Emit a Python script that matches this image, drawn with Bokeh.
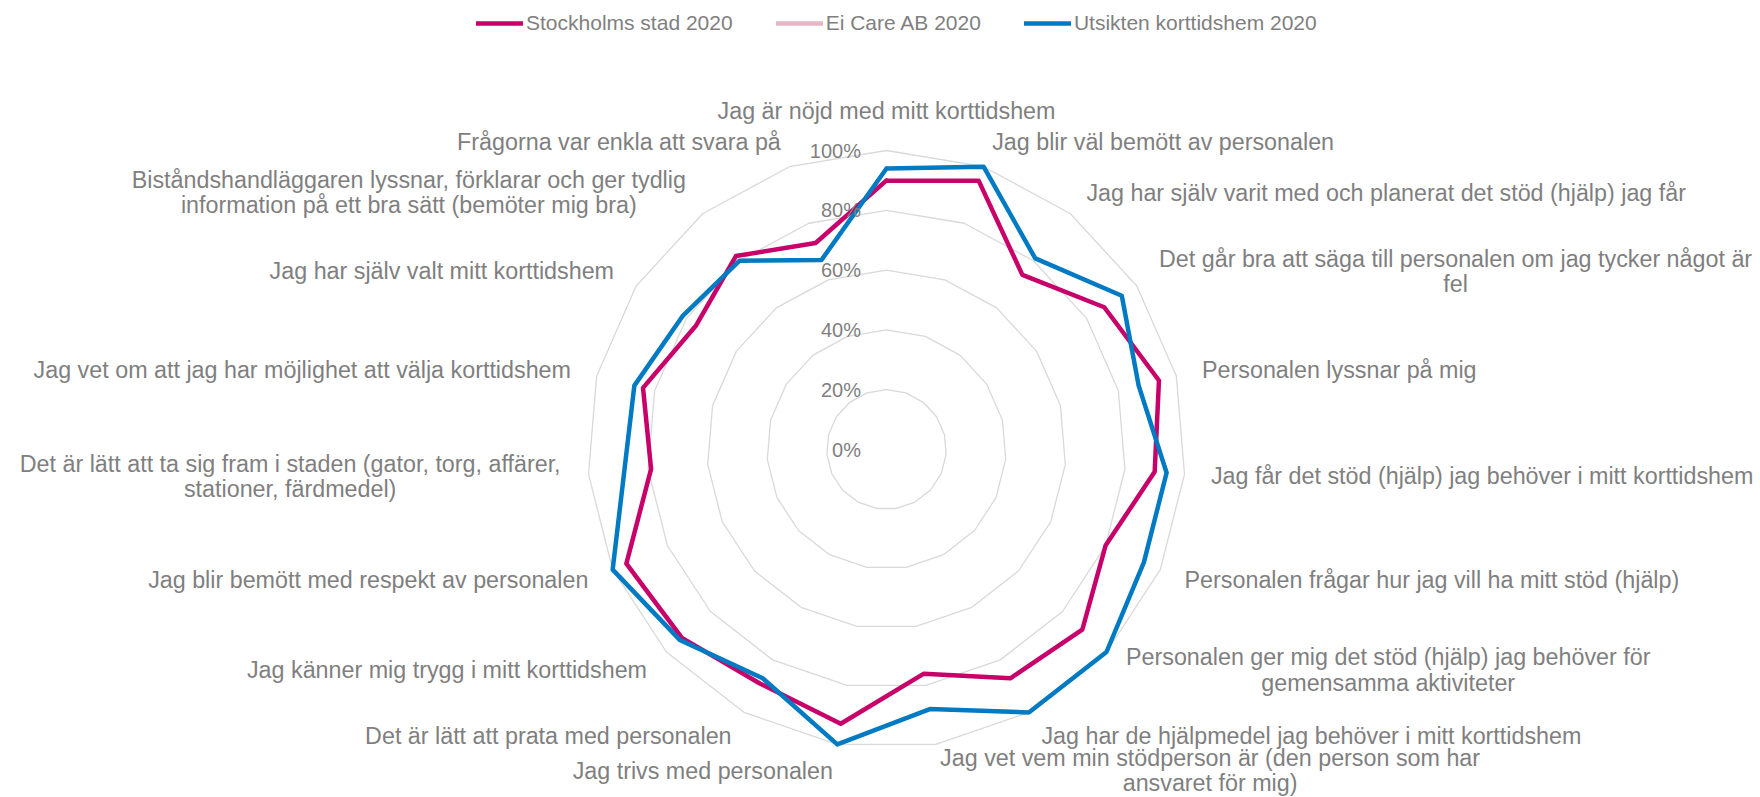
import math
from bokeh.plotting import figure
from bokeh.models import Range1d, ColumnDataSource, Legend, LegendItem
from bokeh.embed import file_html
from bokeh.resources import INLINE
from bokeh.core.properties import value

# ---------------- data ----------------
categories = [
    "Jag är nöjd med mitt korttidshem",
    "Jag blir väl bemött av personalen",
    "Jag har själv varit med och planerat det stöd (hjälp) jag får",
    "Det går bra att säga till personalen om jag tycker något är\nfel",
    "Personalen lyssnar på mig",
    "Jag får det stöd (hjälp) jag behöver i mitt korttidshem",
    "Personalen frågar hur jag vill ha mitt stöd (hjälp)",
    "Personalen ger mig det stöd (hjälp) jag behöver för\ngemensamma aktiviteter",
    "Jag har de hjälpmedel jag behöver i mitt korttidshem",
    "Jag vet vem min stödperson är (den person som har\nansvaret för mig)",
    "Jag trivs med personalen",
    "Det är lätt att prata med personalen",
    "Jag känner mig trygg i mitt korttidshem",
    "Jag blir bemött med respekt av personalen",
    "Det är lätt att ta sig fram i staden (gator, torg, affärer,\nstationer, färdmedel)",
    "Jag vet om att jag har möjlighet att välja korttidshem",
    "Jag har själv valt mitt korttidshem",
    "Biståndshandläggaren lyssnar, förklarar och ger tydlig\ninformation på ett bra sätt (bemöter mig bra)",
    "Frågorna var enkla att svara på",
]
stockholm = [90, 95, 74, 87, 94, 90, 80, 89, 87, 76, 93, 89, 93, 95, 79, 84, 76, 82, 73]
ei_care = []  # no values shown for this series
utsikten = [94, 100, 81, 94, 87, 94, 94, 100, 100, 88, 100, 87, 94, 100, 88, 87, 81.5, 80, 67]
series_names = ["Stockholms stad 2020", "Ei Care AB 2020", "Utsikten korttidshem 2020"]
tick_values = [0, 20, 40, 60, 80, 100]
tick_labels = ["0%", "20%", "40%", "60%", "80%", "100%"]

# ---------------- style ----------------
FONT = "Liberation Sans"
TEXT_COLOR = "#7f7f7f"
GRID_COLOR = "#d9d9d9"
COLORS = ["#c8006a", "#e8b4c8", "#007ac2"]
PX = 2.99            # pixels per percent
R_LAB = 325.5        # label anchor radius (px)
LABEL_PX = 23.3
LINE_GAP = 25.5

W, H = 1760, 797
CX, CY = 886, 449  # centre of radar in figure pixels (from top-left)

ARIAL = {' ': 278, '(': 333, ')': 333, ',': 278, '%': 889, 'a': 556, 'b': 556, 'c': 500, 'd': 556,
         'e': 556, 'f': 278, 'g': 556, 'h': 556, 'i': 222, 'j': 222, 'k': 500, 'l': 222, 'm': 833,
         'n': 556, 'o': 556, 'p': 556, 'q': 556, 'r': 333, 's': 500, 't': 278, 'u': 556, 'v': 500,
         'w': 722, 'x': 500, 'y': 500, 'z': 500, 'å': 556, 'ä': 556, 'ö': 556, 'A': 667, 'B': 667,
         'C': 722, 'D': 722, 'E': 667, 'F': 611, 'J': 500, 'P': 667, 'S': 667, 'U': 722}


def text_width(s, size):
    return sum(ARIAL.get(ch, 556) for ch in s) / 1000.0 * size


N = len(categories)
angles = [math.pi / 2 - 2 * math.pi * i / N for i in range(N)]


def polygon(vals):
    xs = [v * PX * math.cos(a) for v, a in zip(vals, angles)]
    ys = [v * PX * math.sin(a) for v, a in zip(vals, angles)]
    return xs + xs[:1], ys + ys[:1]


p = figure(width=W, height=H, x_range=Range1d(-CX, W - CX), y_range=Range1d(-(H - CY), CY),
           x_axis_type=None, y_axis_type=None, output_backend="svg", toolbar_location=None,
           min_border=0, background_fill_color="white", border_fill_color="white")
p.outline_line_color = None
p.grid.visible = False

# grid rings
gx, gy = [], []
for t in tick_values[1:]:
    x, y = polygon([t] * N)
    gx.append(x)
    gy.append(y)
p.multi_line(xs=gx, ys=gy, line_color=GRID_COLOR, line_width=1.3)

# series
renderers = []
for name, vals, col in zip(series_names, [stockholm, ei_care, utsikten], COLORS):
    if vals:
        x, y = polygon(vals)
    else:
        x, y = [float("nan")], [float("nan")]
    r = p.line(x=x, y=y, line_color=col, line_width=4.5, line_join="round", line_cap="round")
    renderers.append(r)

# tick labels
p.text(x=[-25.5] * len(tick_values), y=[t * PX for t in tick_values], text=tick_labels,
       text_align="right", text_baseline="middle", text_font=value(FONT), text_font_size="20px",
       text_color=TEXT_COLOR)

# category labels
groups = {}
for i, cat in enumerate(categories):
    c, s = math.cos(angles[i]), math.sin(angles[i])
    ax, ay = R_LAB * c, R_LAB * s
    lines = cat.split("\n")
    if abs(c) < 0.05:
        align, base = "center", "bottom"
    elif c > 0:
        align, base = "left", "middle"
    else:
        align, base = "right", "middle"
    if len(lines) > 1:
        w = max(text_width(l, LABEL_PX) for l in lines)
        bx = ax + w / 2 if align == "left" else ax - w / 2
        for j, l in enumerate(lines):
            g = groups.setdefault(("center", base), dict(x=[], y=[], text=[], yo=[]))
            g["x"].append(bx); g["y"].append(ay); g["text"].append(l)
            g["yo"].append((j - (len(lines) - 1) / 2) * LINE_GAP)
    else:
        g = groups.setdefault((align, base), dict(x=[], y=[], text=[], yo=[]))
        g["x"].append(ax); g["y"].append(ay); g["text"].append(cat); g["yo"].append(0)

for (align, base), g in groups.items():
    p.text(x="x", y="y", text="text", y_offset="yo", source=ColumnDataSource(g),
           text_align=align, text_baseline=base, text_font=value(FONT),
           text_font_size=f"{LABEL_PX}px", text_color=TEXT_COLOR)

legend = Legend(items=[LegendItem(label=n, renderers=[r]) for n, r in zip(series_names, renderers)],
                location=(476, H - 10.5 - 24), orientation="horizontal", glyph_width=47, glyph_height=20,
                label_standoff=3, spacing=43, padding=0, margin=0, border_line_color=None,
                background_fill_alpha=0, label_text_font=FONT, label_text_font_size="21px",
                label_text_color=TEXT_COLOR, label_height=20)
p.add_layout(legend)

open("out.html", "w").write(file_html(p, INLINE))
